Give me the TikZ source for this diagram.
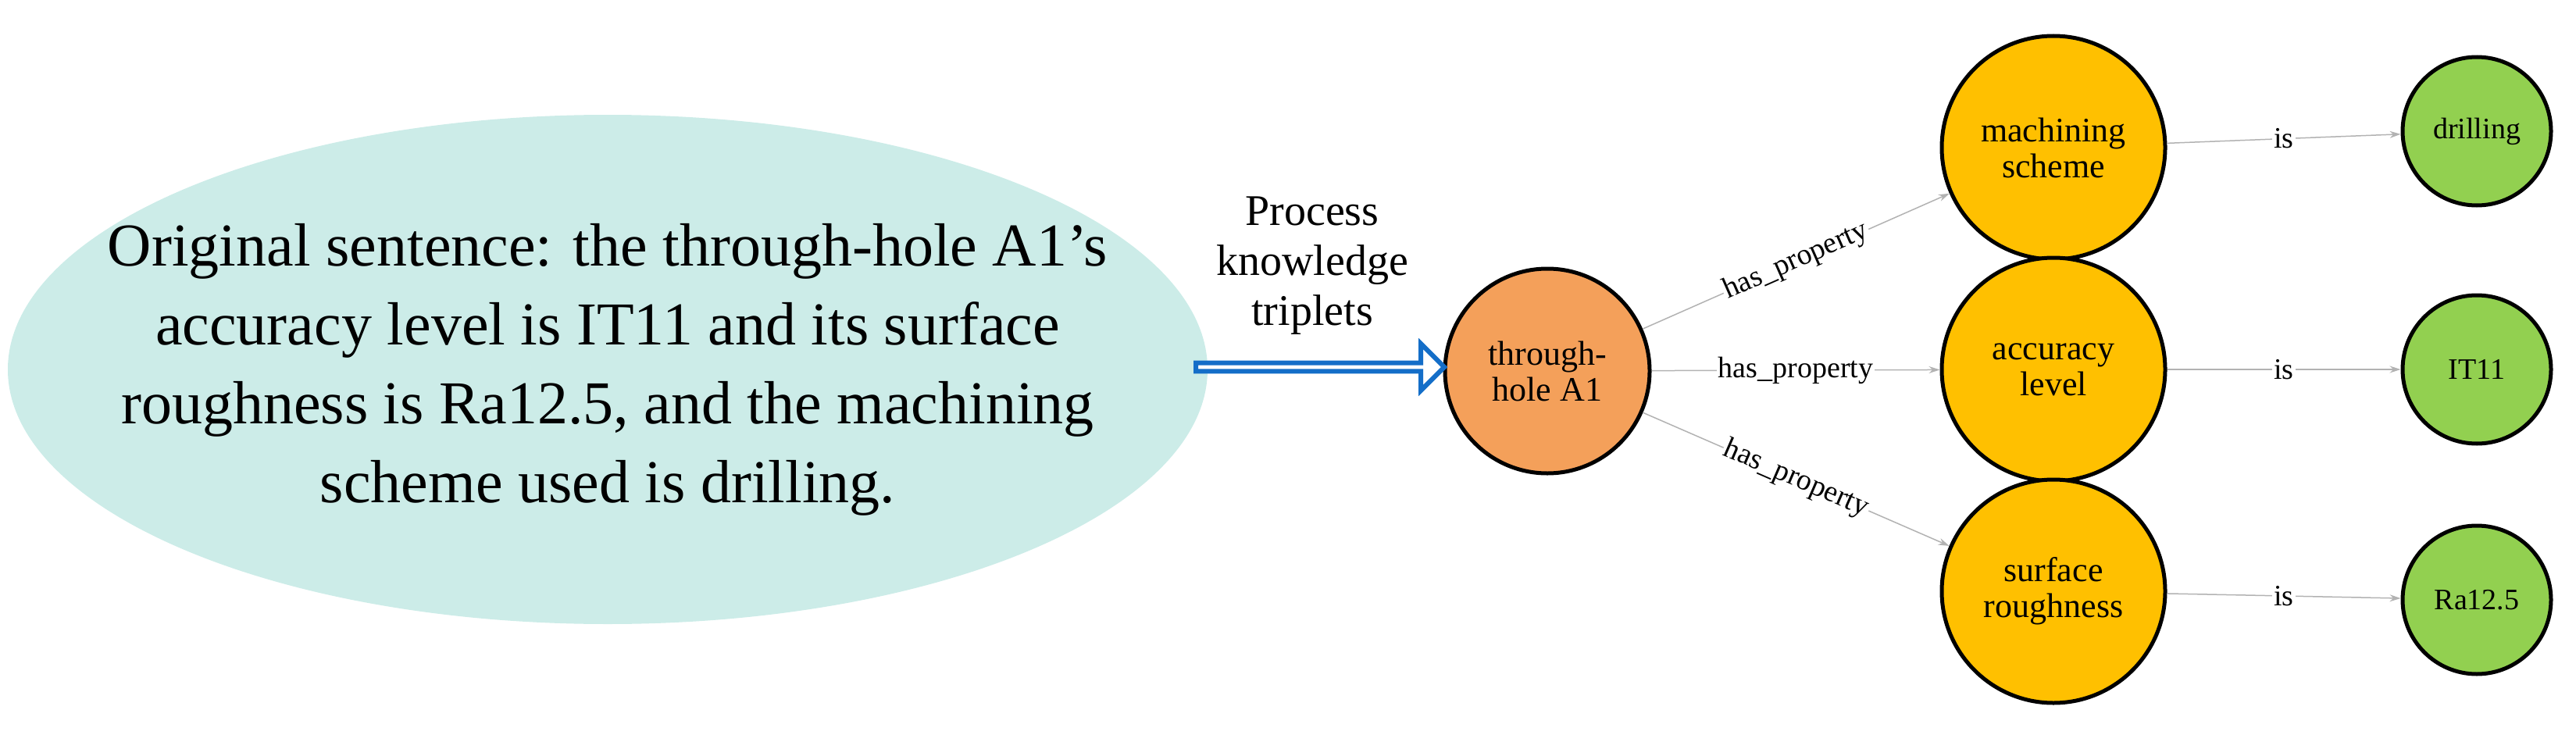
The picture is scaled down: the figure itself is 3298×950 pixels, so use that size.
\documentclass[tikz,border=0pt]{standalone}
\usepackage{fontspec}
\setmainfont{Liberation Serif}
\usetikzlibrary{arrows.meta,shapes.arrows,shapes.geometric}
\definecolor{ell}{RGB}{204,236,232}
\definecolor{ora}{RGB}{244,160,90}
\definecolor{yel}{RGB}{255,192,0}
\definecolor{grn}{RGB}{146,208,80}
\definecolor{arb}{RGB}{20,110,200}
\begin{document}
\begin{tikzpicture}[x=1pt,y=-1pt,
  circ/.style={circle,draw=black,line width=5pt,minimum size=#1,inner sep=0pt,align=center,font=\rmfamily\fontsize{44}{46}\selectfont},
  edge/.style={draw=gray!60,line width=1.5pt,-{Stealth[length=14pt,width=9pt]}},
  lab/.style={fill=white,inner sep=2pt,font=\rmfamily\fontsize{38}{42}\selectfont,text=black}]
\useasboundingbox (0,0) rectangle (3298,950);
\fill[ell] (778,473) ellipse [x radius=768, y radius=326];
\node[align=center,font=\rmfamily\fontsize{78}{101}\selectfont] (s) at (778,473)
 {Original sentence: the through-hole A1's\\accuracy level is IT11 and its surface\\roughness is Ra12.5, and the machining\\scheme used is drilling.};
\node[circ=262pt,fill=ora] (t) at (1981,475) {through-\\hole A1};
\node[circ=286pt,fill=yel] (m) at (2629,189) {machining\\scheme};
\node[circ=286pt,fill=yel] (a) at (2629,473) {accuracy\\level};
\node[circ=286pt,fill=yel] (r) at (2629,757) {surface\\roughness};
\node[circ=190pt,fill=grn,font=\rmfamily\fontsize{38}{40}\selectfont] (d) at (3171,168) {drilling};
\node[circ=190pt,fill=grn,font=\rmfamily\fontsize{38}{40}\selectfont] (i) at (3171,473) {IT11};
\node[circ=190pt,fill=grn,font=\rmfamily\fontsize{38}{40}\selectfont] (k) at (3171,768) {Ra12.5};
\coordinate (a0) at (1528,470);
\node[single arrow,draw=arb,line width=6pt,fill=white,minimum height=318pt,minimum width=60pt,single arrow head extend=14pt,single arrow tip angle=90,inner sep=0pt,anchor=west] (arr) at (a0) {};
\node[align=center,font=\rmfamily\fontsize{56}{64}\selectfont] (p) at (1680,340) {Process\\knowledge\\triplets};
\draw[edge] (t) -- node[lab,sloped] {has\_property} (m);
\draw[edge] (t) -- node[lab] {has\_property} (a);
\draw[edge] (t) -- node[lab,sloped] {has\_property} (r);
\draw[edge] (m) -- node[lab] {is} (d);
\draw[edge] (a) -- node[lab] {is} (i);
\draw[edge] (r) -- node[lab] {is} (k);
\end{tikzpicture}
\end{document}
